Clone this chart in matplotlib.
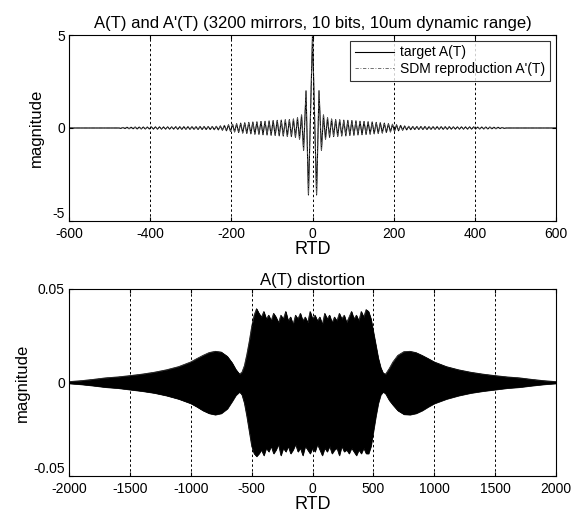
import numpy as np
import matplotlib.pyplot as plt

plt.rcParams['font.family'] = ['Liberation Sans', 'DejaVu Sans']
plt.rcParams['axes.unicode_minus'] = False

# ---- top plot: A(T) ----
# central lobe (RTD, magnitude)
center_rtd = [-22, -16, -10, 0, 10, 16, 22]
center_val = [-1.2, 2.0, -3.6, 5.0, -3.6, 2.0, -1.2]

# ripple peak magnitudes at |RTD| = 27, 32, ... 477 (peaks alternate in sign)
ripple_amp = [0.70, 0.60, 0.55, 0.50, 0.48, 0.46, 0.45, 0.45, 0.44, 0.43,
              0.42, 0.42, 0.41, 0.40, 0.40, 0.39, 0.38, 0.37, 0.36, 0.36,
              0.35, 0.34, 0.33, 0.33, 0.32, 0.31, 0.30, 0.29, 0.28, 0.27,
              0.26, 0.24, 0.23, 0.21, 0.20, 0.18, 0.17, 0.15, 0.14, 0.12,
              0.11, 0.10, 0.09, 0.09, 0.08, 0.08, 0.08, 0.08, 0.08, 0.08,
              0.08, 0.08, 0.07, 0.07, 0.07, 0.07, 0.07, 0.07, 0.07, 0.07,
              0.07, 0.07, 0.07, 0.06, 0.06, 0.06, 0.06, 0.06, 0.06, 0.06,
              0.06, 0.06, 0.06, 0.06, 0.06, 0.05, 0.05, 0.05, 0.05, 0.05,
              0.05, 0.05, 0.05, 0.04, 0.04, 0.04, 0.04, 0.03, 0.03, 0.02, 0.0]
ripple_pos = np.arange(27, 478, 5)

# ---- bottom plot: distortion envelope ----
dist_rtd = [-2000, -1900, -1800, -1700, -1600, -1500, -1400, -1300, -1200, -1100,
            -1000, -950, -900, -850, -800, -750, -700, -660, -630, -600,
            -580, -560, -540, -520, -500, -480, -460,
            -440, -420, -400, -380, -360, -340, -320, -300, -280, -260,
            -240, -220, -200, -180, -160, -140, -120, -100, -80, -60,
            -40, -20, 0, 20, 40, 60, 80, 100, 120, 140,
            160, 180, 200, 220, 240, 260, 280, 300, 320, 340,
            360, 380, 400, 420, 440,
            460, 480, 500, 520, 540, 560, 580, 600, 630, 660,
            700, 750, 800, 850, 900, 950, 1000, 1100, 1200, 1300,
            1400, 1500, 1600, 1700, 1800, 1900, 2000]
dist_upper = [0.0005, 0.0010, 0.0017, 0.0025, 0.0030, 0.0037, 0.0045, 0.0055, 0.0068, 0.0085,
              0.0110, 0.0128, 0.0145, 0.0160, 0.0167, 0.0163, 0.0140, 0.0105, 0.0070, 0.0045,
              0.0055, 0.0090, 0.0150, 0.0220, 0.0300, 0.0360, 0.0395,
              0.037, 0.035, 0.038, 0.034, 0.036, 0.033, 0.037, 0.035, 0.032, 0.036,
              0.034, 0.038, 0.033, 0.035, 0.031, 0.036, 0.034, 0.037, 0.033, 0.035,
              0.032, 0.038, 0.034, 0.036, 0.033, 0.035, 0.031, 0.037, 0.034, 0.036,
              0.032, 0.035, 0.033, 0.037, 0.034, 0.036, 0.032, 0.035, 0.038, 0.034,
              0.036, 0.033, 0.038, 0.035, 0.039,
              0.0380, 0.0340, 0.0270, 0.0200, 0.0130, 0.0080, 0.0050, 0.0045, 0.0075, 0.0110,
              0.0145, 0.0165, 0.0167, 0.0160, 0.0145, 0.0128, 0.0110, 0.0085, 0.0068, 0.0055,
              0.0045, 0.0037, 0.0030, 0.0025, 0.0017, 0.0010, 0.0005]
dist_lower = [-0.0005, -0.0010, -0.0017, -0.0025, -0.0030, -0.0038, -0.0046, -0.0056, -0.0070, -0.0088,
              -0.0112, -0.0130, -0.0150, -0.0165, -0.0172, -0.0165, -0.0140, -0.0100, -0.0068, -0.0050,
              -0.0065, -0.0110, -0.0180, -0.0260, -0.0340, -0.0380, -0.0395,
              -0.038, -0.036, -0.039, -0.035, -0.037, -0.034, -0.038, -0.036, -0.033, -0.039,
              -0.035, -0.037, -0.034, -0.038, -0.036, -0.033, -0.037, -0.035, -0.039, -0.034,
              -0.036, -0.038, -0.035, -0.037, -0.033, -0.036, -0.039, -0.035, -0.037, -0.034,
              -0.038, -0.036, -0.035, -0.039, -0.034, -0.037, -0.036, -0.038, -0.035, -0.037,
              -0.039, -0.036, -0.038, -0.035, -0.038,
              -0.0380, -0.0340, -0.0260, -0.0180, -0.0110, -0.0065, -0.0050, -0.0060, -0.0095, -0.0120,
              -0.0150, -0.0170, -0.0172, -0.0165, -0.0150, -0.0130, -0.0112, -0.0088, -0.0070, -0.0056,
              -0.0046, -0.0038, -0.0030, -0.0025, -0.0017, -0.0010, -0.0005]

# build the top signal from the read peaks
signs = np.array([1 if k % 2 == 0 else -1 for k in range(len(ripple_pos))])
amp = np.array(ripple_amp)
left_x = -ripple_pos[::-1]
left_y = (amp * signs)[::-1]
right_x = ripple_pos
right_y = amp * signs
top_x = np.concatenate([[-600], left_x, center_rtd, right_x, [600]])
top_y = np.concatenate([[0], left_y, center_val, right_y, [0]])

fig = plt.figure(figsize=(5.73, 5.18), dpi=100)
ax1 = fig.add_axes([0.1204, 0.5734, 0.85, 0.359])
ax2 = fig.add_axes([0.1204, 0.0811, 0.85, 0.361])

ax1.plot(top_x, top_y, color='k', lw=0.8, label='target A(T)')
ax1.plot(top_x, top_y, color='0.35', lw=0.6, linestyle=(0, (4, 2, 1, 2)),
         label="SDM reproduction A'(T)")
ax1.set_xlim(-600, 600)
ax1.set_ylim(-5, 5)
ax1.set_xticks([-600, -400, -200, 0, 200, 400, 600])
ax1.set_yticks([-5, 0, 5])
ax1.set_title("A(T) and A'(T) (3200 mirrors, 10 bits, 10um dynamic range)",
              fontsize=12, pad=5)
ax1.set_xlabel('RTD', fontsize=13, labelpad=0)
ax1.set_ylabel('magnitude', fontsize=12, labelpad=6)
leg = ax1.legend(loc='upper right', fontsize=10, frameon=True, fancybox=False,
                 edgecolor='k', borderpad=0.35, handlelength=2.8, labelspacing=0.2,
                 borderaxespad=0.4, handletextpad=0.5)
leg.get_frame().set_linewidth(0.8)

ax2.fill_between(dist_rtd, dist_lower, dist_upper, color='k', lw=0.5)
ax2.plot(dist_rtd, dist_upper, color='k', lw=0.5)
ax2.plot(dist_rtd, dist_lower, color='k', lw=0.5)
ax2.set_xlim(-2000, 2000)
ax2.set_ylim(-0.05, 0.05)
ax2.set_xticks([-2000, -1500, -1000, -500, 0, 500, 1000, 1500, 2000])
ax2.set_yticks([-0.05, 0, 0.05])
ax2.set_yticklabels(['-0.05', '0', '0.05'])
ax2.set_title('A(T) distortion', fontsize=12, pad=3)
ax2.set_xlabel('RTD', fontsize=13, labelpad=0)
ax2.set_ylabel('magnitude', fontsize=12, labelpad=2)

for ax in (ax1, ax2):
    ax.grid(True, axis='x', color='k', linestyle=(0, (2.5, 2.5)), lw=0.7)
    ax.tick_params(direction='in', top=True, right=True, length=3,
                   labelsize=10, pad=3)
    ax.tick_params(axis='x', pad=4)
    for s in ax.spines.values():
        s.set_linewidth(0.8)
    ax.set_axisbelow(False)
    # lowest y label sits just above the axis line, as in the original
    ax.get_yticklabels()[0].set_verticalalignment('bottom')

fig.savefig('out.png', dpi=100)
